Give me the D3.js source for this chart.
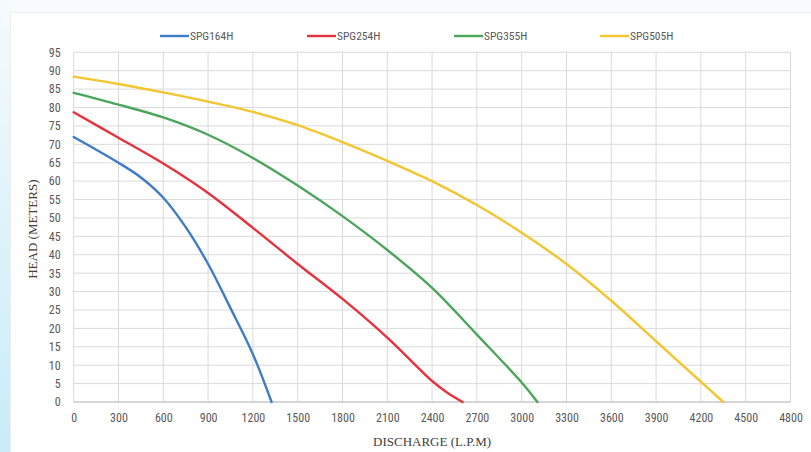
<!DOCTYPE html>
<html><head><meta charset="utf-8">
<script src="https://cdn.jsdelivr.net/npm/d3@7"></script>
<style>
html,body{margin:0;padding:0;background:#fff;}
svg{display:block;}
</style></head>
<body>
<svg id="chart" width="811" height="452"></svg>
<script>
const seriesNames = ["SPG164H", "SPG254H", "SPG355H", "SPG505H"];
const seriesColors = ["#3f7cc6", "#e5333d", "#4ba65c", "#f3c52f"];
const xTicks = [0,300,600,900,1200,1500,1800,2100,2400,2700,3000,3300,3600,3900,4200,4500,4800];
const yTicks = [0,5,10,15,20,25,30,35,40,45,50,55,60,65,70,75,80,85,90,95];

const spg164hQ = [0, 300, 450, 600, 750, 900, 1050, 1200, 1325];
const spg164hH = [72, 65, 61, 55.5, 47.5, 37.5, 25.5, 13, 0];
const spg254hQ = [0, 300, 600, 900, 1200, 1500, 1800, 2100, 2400, 2500, 2604];
const spg254hH = [78.7, 71.8, 64.8, 56.8, 47.3, 37.5, 28, 17.5, 5.7, 2.6, 0];
const spg355hQ = [0, 300, 600, 900, 1200, 1500, 1800, 2100, 2400, 2700, 3000, 3105];
const spg355hH = [84, 80.8, 77.3, 72.6, 66.3, 58.8, 50.5, 41.3, 31, 18.3, 5.3, 0];
const spg505hQ = [0, 300, 600, 900, 1200, 1500, 1800, 2100, 2400, 2700, 3000, 3300, 3600, 3900, 4200, 4350];
const spg505hH = [88.4, 86.4, 84.1, 81.6, 78.8, 75.2, 70.6, 65.5, 60, 53.5, 46, 37.5, 27.5, 16.5, 5.5, 0];

const seriesQ = [spg164hQ, spg254hQ, spg355hQ, spg505hQ];
const seriesH = [spg164hH, spg254hH, spg355hH, spg505hH];

const svg = d3.select("#chart");
const W = 811, H = 452;

const defs = svg.append("defs");
const g1 = defs.append("linearGradient").attr("id","bgGrad").attr("x1","0").attr("y1","0").attr("x2","0").attr("y2","1");
g1.append("stop").attr("offset","0%").attr("stop-color","#f6fbfd");
g1.append("stop").attr("offset","40%").attr("stop-color","#e3f4fb");
g1.append("stop").attr("offset","100%").attr("stop-color","#c9ecf8");
svg.append("rect").attr("x",0).attr("y",0).attr("width",W).attr("height",H).attr("fill","#f8fcfe");
svg.append("rect").attr("x",0).attr("y",0).attr("width",12).attr("height",H).attr("fill","url(#bgGrad)");
svg.append("rect").attr("x",10.5).attr("y",12.5).attr("width",W-10).attr("height",H-12)
  .attr("fill","#ffffff").attr("stroke","#eeeeee");

const pLeft = 73.7, pRight = 790.5, pTop = 52.3, pBottom = 402;
const x = d3.scaleLinear().domain([0,4800]).range([pLeft,pRight]);
const y = d3.scaleLinear().domain([0,95]).range([pBottom,pTop]);

const grid = svg.append("g");
grid.selectAll("line.v").data(xTicks).join("line")
  .attr("x1",d=>x(d)).attr("x2",d=>x(d)).attr("y1",pTop).attr("y2",pBottom)
  .attr("stroke","#dadada").attr("stroke-width",1);
grid.selectAll("line.h").data(yTicks).join("line")
  .attr("x1",pLeft).attr("x2",pRight).attr("y1",d=>y(d)).attr("y2",d=>y(d))
  .attr("stroke","#dadada").attr("stroke-width",1);
svg.append("line").attr("x1",pLeft).attr("x2",pRight).attr("y1",pBottom).attr("y2",pBottom)
  .attr("stroke","#bcbcc8").attr("stroke-width",1);

const tickFont = "'Liberation Sans Narrow','Arial Narrow','Roboto Condensed',sans-serif";

const xAxis = svg.append("g").attr("transform",`translate(0,${pBottom})`)
  .call(d3.axisBottom(x).tickValues(xTicks).tickSize(0).tickPadding(11).tickFormat(d3.format("d")));
xAxis.select(".domain").remove();
xAxis.selectAll("text").attr("fill","#595959").style("font-family",tickFont).style("font-size","12px");

const yAxis = svg.append("g").attr("transform",`translate(${pLeft},0)`)
  .call(d3.axisLeft(y).tickValues(yTicks).tickSize(0).tickPadding(13).tickFormat(d3.format("d")));
yAxis.select(".domain").remove();
yAxis.selectAll("text").attr("fill","#595959").style("font-family",tickFont).style("font-size","12px");

svg.append("text").attr("x",(pLeft+pRight)/2).attr("y",446).attr("text-anchor","middle")
  .style("font-family","'Liberation Serif','Times New Roman',serif").style("font-size","13px").attr("fill","#404040")
  .text("DISCHARGE (L.P.M)");
svg.append("text").attr("transform",`translate(37,${(pTop+pBottom)/2+2}) rotate(-90)`).attr("text-anchor","middle")
  .style("font-family","'Liberation Serif','Times New Roman',serif").style("font-size","13px").attr("fill","#404040")
  .text("HEAD (METERS)");

const line = d3.line().x(d=>x(d[0])).y(d=>y(d[1])).curve(d3.curveCatmullRom.alpha(0.5));
seriesNames.forEach((name,i)=>{
  const pts = seriesQ[i].map((q,j)=>[q, seriesH[i][j]]);
  svg.append("path").datum(pts).attr("d",line).attr("fill","none")
    .attr("stroke",seriesColors[i]).attr("stroke-width",2.4).attr("stroke-linecap","round");
});

const legendX = [160, 307, 454, 600];
const lg = svg.append("g");
seriesNames.forEach((name,i)=>{
  lg.append("line").attr("x1",legendX[i]).attr("x2",legendX[i]+29).attr("y1",36).attr("y2",36)
    .attr("stroke",seriesColors[i]).attr("stroke-width",2.4);
  lg.append("text").attr("x",legendX[i]+30).attr("y",40).attr("fill","#595959")
    .style("font-family",tickFont).style("font-size","11.5px").text(name);
});
</script>
</body></html>
